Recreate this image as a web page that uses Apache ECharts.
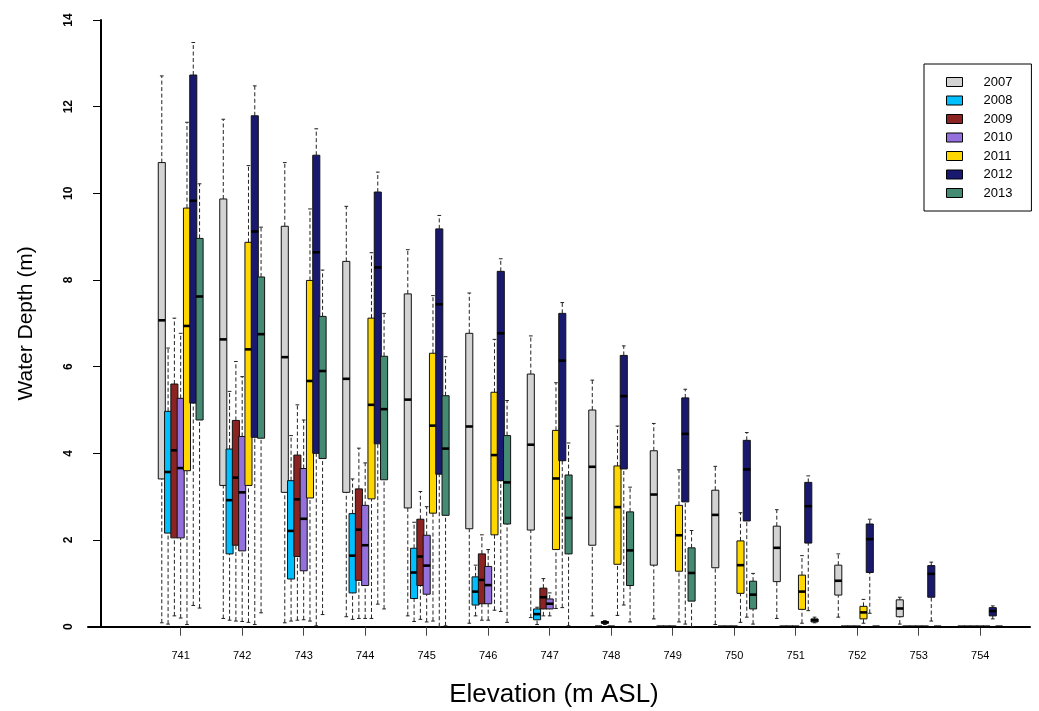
<!DOCTYPE html>
<html>
<head>
<meta charset="utf-8">
<title>Water depth by elevation</title>
<script src="https://cdn.jsdelivr.net/npm/echarts@6/dist/echarts.min.js"></script>
<style>
  html, body { margin: 0; padding: 0; background: #ffffff; }
  #chart { width: 1039px; height: 711px; }
</style>
</head>
<body>
<div id="chart"></div>
<script>
// Elevation bands (m ASL) on the x axis
const elevations = [741, 742, 743, 744, 745, 746, 747, 748, 749, 750, 751, 752, 753, 754];
const years = ['2007', '2008', '2009', '2010', '2011', '2012', '2013'];
const yearColors = ['#D3D3D3', '#00BFFF', '#8B2323', '#9370DB', '#FFD700', '#191970', '#458B74'];
const depthTicks = [0, 2, 4, 6, 8, 10, 12, 14];

// Water depth (m) per elevation band: [lower whisker, Q1, median, Q3, upper whisker]
const depth2007 = [
  [0.09, 3.41, 7.07, 10.71, 12.71], [0.19, 3.26, 6.63, 9.87, 11.71], [0.09, 3.10, 6.22, 9.24, 10.71],
  [0.23, 3.10, 5.72, 8.43, 9.70], [0.25, 2.74, 5.24, 7.68, 8.70], [0.08, 2.26, 4.62, 6.77, 7.70],
  [0.21, 2.23, 4.20, 5.83, 6.71], [0.25, 1.88, 3.69, 5.00, 5.69], [0.18, 1.42, 3.05, 4.06, 4.69],
  [0.05, 1.36, 2.58, 3.15, 3.70], [0.19, 1.04, 1.82, 2.32, 2.70], [0.22, 0.73, 1.06, 1.42, 1.68],
  [0.06, 0.23, 0.42, 0.62, 0.68], [0, 0, 0, 0, 0]
];
const depth2008 = [
  [0.06, 2.16, 3.57, 4.97, 6.43], [0.15, 1.68, 2.92, 4.10, 5.43], [0.13, 1.10, 2.21, 3.37, 4.41],
  [0.17, 0.78, 1.64, 2.61, 3.41], [0.12, 0.65, 1.25, 1.81, 2.41], [0.25, 0.50, 0.81, 1.15, 1.42],
  [0.05, 0.16, 0.29, 0.41, 0.45], [0, 0, 0, 0, 0], [0, 0, 0, 0, 0], [0, 0, 0, 0, 0],
  [0, 0, 0, 0, 0], [0, 0, 0, 0, 0], [0, 0, 0, 0, 0], [0, 0, 0, 0, 0]
];
const depth2009 = [
  [0.25, 2.05, 4.07, 5.60, 7.12], [0.13, 1.88, 3.44, 4.76, 6.12], [0.15, 1.62, 2.94, 3.96, 5.12],
  [0.19, 1.07, 2.24, 3.18, 4.12], [0.17, 0.95, 1.62, 2.48, 3.12], [0.15, 0.53, 1.08, 1.68, 2.12],
  [0.25, 0.41, 0.68, 0.89, 1.11], [0.05, 0.08, 0.10, 0.12, 0.14], [0, 0, 0, 0, 0], [0, 0, 0, 0, 0],
  [0, 0, 0, 0, 0], [0, 0, 0, 0, 0], [0, 0, 0, 0, 0], [0, 0, 0, 0, 0]
];
const depth2010 = [
  [0.20, 2.05, 3.66, 5.27, 6.77], [0.12, 1.75, 3.10, 4.39, 5.77], [0.16, 1.29, 2.49, 3.65, 4.77],
  [0.19, 0.95, 1.88, 2.80, 3.78], [0.11, 0.75, 1.41, 2.11, 2.77], [0.15, 0.53, 0.96, 1.39, 1.78],
  [0.25, 0.41, 0.53, 0.64, 0.78], [0, 0, 0, 0, 0], [0, 0, 0, 0, 0], [0, 0, 0, 0, 0],
  [0, 0, 0, 0, 0], [0, 0, 0, 0, 0], [0, 0, 0, 0, 0], [0, 0, 0, 0, 0]
];
const depth2011 = [
  [0.05, 3.60, 6.94, 9.66, 11.64], [0.10, 3.26, 6.40, 8.87, 10.64], [0.13, 2.97, 5.67, 7.99, 9.64],
  [0.19, 2.95, 5.12, 7.12, 8.63], [0.13, 2.62, 4.64, 6.31, 7.64], [0.38, 2.12, 3.96, 5.41, 6.63],
  [0.42, 1.78, 3.42, 4.53, 5.63], [0.26, 1.44, 2.76, 3.71, 4.63], [0.11, 1.28, 2.11, 2.80, 3.62],
  [0.10, 0.77, 1.42, 1.98, 2.63], [0.08, 0.40, 0.81, 1.19, 1.64], [0.08, 0.18, 0.33, 0.47, 0.63],
  [0, 0, 0, 0, 0], [0, 0, 0, 0, 0]
];
const depth2012 = [
  [0.49, 5.16, 9.83, 12.73, 13.48], [0.05, 4.37, 9.12, 11.79, 12.48], [0.02, 4.00, 8.64, 10.88, 11.49],
  [0.52, 4.22, 8.29, 10.03, 10.49], [0.00, 3.52, 7.44, 9.18, 9.49], [0.35, 3.37, 6.77, 8.20, 8.49],
  [0.44, 3.83, 6.14, 7.23, 7.48], [0.50, 3.64, 5.32, 6.26, 6.48], [0.06, 2.88, 4.45, 5.28, 5.48],
  [0.22, 2.44, 3.63, 4.30, 4.48], [0.37, 1.93, 2.78, 3.33, 3.48], [0.31, 1.25, 2.02, 2.37, 2.48],
  [0.13, 0.68, 1.22, 1.41, 1.49], [0.18, 0.25, 0.36, 0.44, 0.48]
];
const depth2013 = [
  [0.43, 4.77, 7.62, 8.96, 10.22], [0.32, 4.35, 6.75, 8.07, 9.22], [0.28, 3.88, 5.90, 7.16, 8.23],
  [0.41, 3.39, 5.02, 6.24, 7.23], [0.02, 2.57, 4.11, 5.33, 6.23], [0.10, 2.37, 3.33, 4.41, 5.22],
  [0.02, 1.68, 2.51, 3.50, 4.24], [0.11, 0.95, 1.76, 2.65, 3.22], [0.00, 0.59, 1.24, 1.82, 2.22],
  [0.06, 0.41, 0.74, 1.05, 1.23], [0.09, 0.11, 0.15, 0.18, 0.22], [0, 0, 0, 0, 0],
  [0, 0, 0, 0, 0], [0, 0, 0, 0, 0]
];
const depthByYear = [depth2007, depth2008, depth2009, depth2010, depth2011, depth2012, depth2013];

const FONT = '"Liberation Sans", Arial, Helvetica, sans-serif';
const SLOT = 0.1024;   // spacing between neighbouring years inside a band (elevation units)
const BOX_W = 0.115;   // box width (elevation units)
const CAP_W = 0.06;    // whisker cap width (elevation units)

// Draws one R-style box: dashed whiskers, short caps, filled box, heavy median bar
function makeRenderer(yearIndex, color) {
  return function (params, api) {
    const x = api.value(0) + (yearIndex - 3) * SLOT;
    const lo = api.coord([x, api.value(1)]);
    const q1 = api.coord([x, api.value(2)]);
    const md = api.coord([x, api.value(3)]);
    const q3 = api.coord([x, api.value(4)]);
    const hi = api.coord([x, api.value(5)]);
    const hw = api.size([BOX_W, 0])[0] / 2;
    const cw = api.size([CAP_W, 0])[0] / 2;
    const cx = lo[0];
    const dashed = { stroke: '#222', lineWidth: 1, lineDash: [4, 2.5] };
    const solid = { stroke: '#222', lineWidth: 1 };
    return {
      type: 'group',
      children: [
        { type: 'line', shape: { x1: cx, y1: lo[1], x2: cx, y2: q1[1] }, style: dashed },
        { type: 'line', shape: { x1: cx, y1: q3[1], x2: cx, y2: hi[1] }, style: dashed },
        { type: 'line', shape: { x1: cx - cw, y1: lo[1], x2: cx + cw, y2: lo[1] }, style: solid },
        { type: 'line', shape: { x1: cx - cw, y1: hi[1], x2: cx + cw, y2: hi[1] }, style: solid },
        { type: 'rect', shape: { x: cx - hw, y: q3[1], width: hw * 2, height: q1[1] - q3[1] },
          style: { fill: color, stroke: '#111', lineWidth: 1 } },
        { type: 'line', shape: { x1: cx - hw, y1: md[1], x2: cx + hw, y2: md[1] },
          style: { stroke: '#000', lineWidth: 2.6 } }
      ]
    };
  };
}

const series = years.map(function (yr, k) {
  return {
    name: yr,
    type: 'custom',
    itemStyle: { color: yearColors[k], borderColor: '#000', borderWidth: 1 },
    renderItem: makeRenderer(k, yearColors[k]),
    encode: { x: 0, y: [1, 2, 3, 4, 5] },
    data: elevations.map(function (e, i) { return [e].concat(depthByYear[k][i]); })
  };
});

const chart = echarts.init(document.getElementById('chart'), null, { renderer: 'canvas' });
chart.setOption({
  animation: false,
  backgroundColor: '#ffffff',
  textStyle: { fontFamily: FONT },
  grid: { left: 88, right: 9, top: 20, bottom: 84.3, containLabel: false, outerBoundsMode: 'none' },
  legend: {
    orient: 'vertical',
    left: 924,
    top: 64,
    data: years,
    icon: 'rect',
    itemWidth: 16,
    itemHeight: 9,
    itemGap: 4.5,
    selectedMode: false,
    itemStyle: { borderColor: '#000', borderWidth: 1 },
    textStyle: { fontSize: 13, color: '#000', fontFamily: FONT, lineHeight: 14, padding: [0, 0, 0, 16] },
    borderColor: '#000',
    borderWidth: 1,
    padding: [11, 19, 11, 22],
    backgroundColor: '#ffffff'
  },
  xAxis: {
    type: 'value',
    min: 739.493,
    max: 754.81,
    axisLine: { show: true, onZero: false, lineStyle: { color: '#000', width: 2 } },
    axisTick: { show: true, customValues: elevations, length: 9, lineStyle: { color: '#444', width: 1 } },
    axisLabel: { customValues: elevations, fontSize: 11, color: '#000', margin: 24, fontFamily: FONT },
    splitLine: { show: false },
    name: 'Elevation (m ASL)',
    nameLocation: 'middle',
    nameGap: 55,
    nameTextStyle: { fontSize: 26, color: '#000', fontFamily: FONT, padding: [0, 10, 0, 0] }
  },
  yAxis: {
    type: 'value',
    min: 0,
    max: 14,
    interval: 2,
    offset: -13,
    axisLine: { show: true, lineStyle: { color: '#000', width: 2 } },
    axisTick: { show: true, length: 8, lineStyle: { color: '#000', width: 1 } },
    axisLabel: { rotate: 90, fontSize: 12, fontWeight: 'bold', color: '#000', margin: 26, fontFamily: FONT,
      customValues: depthTicks },
    splitLine: { show: false },
    name: 'Water Depth (m)',
    nameLocation: 'middle',
    nameRotate: 90,
    nameGap: 64,
    nameTextStyle: { fontSize: 21, color: '#000', fontFamily: FONT }
  },
  series: series
});
</script>
</body>
</html>
